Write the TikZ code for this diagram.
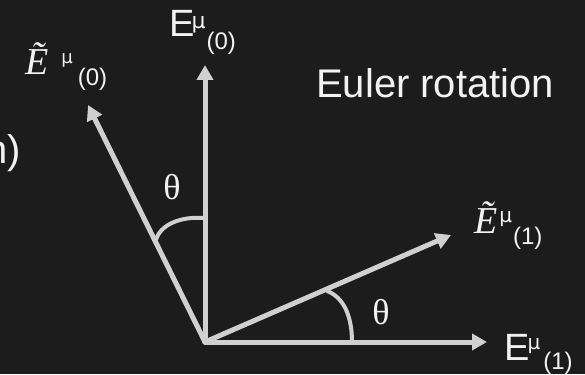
\documentclass[tikz,border=0pt]{standalone}
\usepackage{fontspec}
\setmainfont{Liberation Sans}
\newfontfamily\serifit{Liberation Serif}
\newfontfamily\mufont{DejaVu Sans}
\usetikzlibrary{arrows.meta}
\definecolor{bg}{HTML}{1C1C1C}
\definecolor{ln}{HTML}{D0D0D0}
\definecolor{tx}{HTML}{F2F2F2}
\newcommand{\fsz}[1]{\fontsize{#1}{#1}\selectfont}
\newcommand{\mug}[1]{{\mufont\fsz{#1}\symbol{"03BC}}}
\begin{document}
\begin{tikzpicture}[x=1pt,y=-1pt,
  vec/.style={draw=ln,line width=5pt,line cap=round,-{Triangle[length=15pt,width=16pt]}},
  arcl/.style={draw=ln,line width=4pt},
  lbl/.style={text=tx,inner sep=0pt,anchor=base west}]
\fill[bg] (0,0) rectangle (585,374);
\useasboundingbox (0,0) rectangle (585,374);
\clip (0,0) rectangle (585,374);
% points
\coordinate (O) at (205,342);
\coordinate (v0) at (205,65);
\coordinate (l0) at (88,105);
\coordinate (t1) at (451,235);
\coordinate (h1) at (487,342);
% vectors
\draw[vec] (O) -- (v0);
\draw[vec] (O) -- (l0);
\draw[vec] (O) -- (t1);
\draw[vec] (O) -- (h1);
% angle arcs
\coordinate (a1s) at (205,218);
\coordinate (a1e) at (156,240);
\draw[arcl] (a1s) .. controls (180,216) and (160,225) .. (a1e);
\coordinate (a2s) at (327,291);
\coordinate (a2e) at (352,342);
\draw[arcl] (a2s) .. controls (343,297) and (352,315) .. (a2e);
% labels
\node[lbl] (e0) at (169,37) {\fsz{38}E\kern-3pt\raisebox{8pt}{\mug{22}}\kern1pt\raisebox{-13pt}{\fsz{24}(0)}};
\node[lbl] (et0) at (25,75) {{\serifit\itshape\fsz{38}Ẽ}\kern13pt\raisebox{11pt}{\mug{18}}\kern5pt\raisebox{-11pt}{\fsz{24}(0)}};
\node[lbl] (et1) at (474,233) {{\serifit\itshape\fsz{38}Ẽ}\kern2pt\raisebox{11pt}{\mug{20}}\kern1pt\raisebox{-11pt}{\fsz{24}(1)}};
\node[lbl] (e1) at (504,360) {\fsz{38}E\kern-2pt\raisebox{11pt}{\mug{20}}\kern3pt\raisebox{-9pt}{\fsz{24}(1)}};
\node[lbl] (title) at (316,98) {\fsz{40}Euler rotation};
\node[text=tx,inner sep=0pt] (th1) at (172,187) {\serifit\fsz{36}θ};
\node[text=tx,inner sep=0pt] (th2) at (381,312) {\serifit\fsz{36}θ};
\node[text=tx,inner sep=0pt,anchor=base east] (cut) at (21,163) {\fsz{40}n)};
\end{tikzpicture}
\end{document}
